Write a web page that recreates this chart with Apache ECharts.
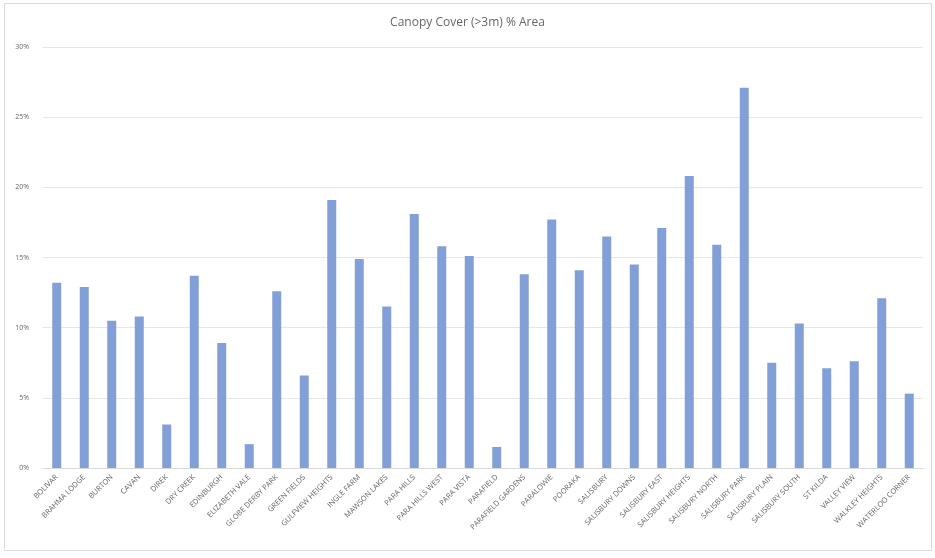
<!DOCTYPE html>
<html>
<head>
<meta charset="utf-8">
<script src="https://cdn.jsdelivr.net/npm/echarts@6/dist/echarts.min.js"></script>
<style>
  html, body { margin: 0; padding: 0; background: #fff; }
  #chart { width: 935px; height: 558px; }
</style>
</head>
<body>
<div id="chart"></div>
<script>
var suburbs = [
  "BOLIVAR", "BRAHMA LODGE", "BURTON", "CAVAN", "DIREK", "DRY CREEK",
  "EDINBURGH", "ELIZABETH VALE", "GLOBE DERBY PARK", "GREEN FIELDS",
  "GULFVIEW HEIGHTS", "INGLE FARM", "MAWSON LAKES", "PARA HILLS",
  "PARA HILLS WEST", "PARA VISTA", "PARAFIELD", "PARAFIELD GARDENS",
  "PARALOWIE", "POORAKA", "SALISBURY", "SALISBURY DOWNS", "SALISBURY EAST",
  "SALISBURY HEIGHTS", "SALISBURY NORTH", "SALISBURY PARK", "SALISBURY PLAIN",
  "SALISBURY SOUTH", "ST KILDA", "VALLEY VIEW", "WALKLEY HEIGHTS",
  "WATERLOO CORNER"
];

// canopy cover in % of area
var canopyCover = [
  13.2, 12.9, 10.5, 10.8, 3.1, 13.7,
  8.9, 1.7, 12.6, 6.6,
  19.1, 14.9, 11.5, 18.1,
  15.8, 15.1, 1.5, 13.8,
  17.7, 14.1, 16.5, 14.5, 17.1,
  20.8, 15.9, 27.1, 7.5,
  10.3, 7.1, 7.6, 12.1,
  5.3
];

var yTicks = [0, 5, 10, 15, 20, 25, 30];

var chart = echarts.init(document.getElementById("chart"));

var option = {
  animation: false,
  title: {
    text: "Canopy Cover (>3m) % Area",
    left: "center",
    top: 12,
    textStyle: {
      color: "#666666",
      fontSize: 12,
      fontWeight: "normal",
      fontFamily: "Open Sans"
    }
  },
  graphic: [{
    type: "rect",
    shape: { x: 4.5, y: 3.5, width: 927, height: 547 },
    style: { fill: "none", stroke: "#d9d9d9", lineWidth: 1 },
    silent: true
  }],
  grid: {
    left: 43,
    right: 12,
    top: 47,
    bottom: 90
  },
  xAxis: {
    type: "category",
    data: suburbs,
    axisTick: { show: false },
    axisLine: { lineStyle: { color: "#d9d9d9" } },
    axisLabel: {
      rotate: 45,
      interval: 0,
      fontSize: 7.5,
      color: "#666666",
      fontFamily: "Open Sans",
      margin: 8
    }
  },
  yAxis: {
    type: "value",
    min: yTicks[0],
    max: yTicks[yTicks.length - 1],
    interval: 5,
    axisLine: { show: false },
    axisTick: { show: false },
    splitLine: { lineStyle: { color: "#e6e6e6" } },
    axisLabel: {
      formatter: "{value}%",
      fontSize: 7,
      color: "#666666",
      fontFamily: "Open Sans",
      margin: 14
    }
  },
  series: [{
    name: "Canopy Cover",
    type: "bar",
    data: canopyCover,
    barWidth: 9,
    itemStyle: { color: "#829fd7" }
  }]
};

chart.setOption(option);
</script>
</body>
</html>
